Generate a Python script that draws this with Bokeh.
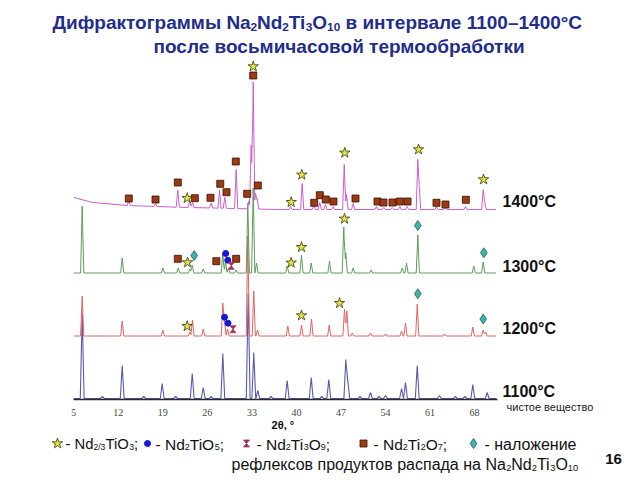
import numpy as np
from bokeh.plotting import figure
from bokeh.models import Range1d, LinearAxis, FixedTicker
from bokeh.core.properties import value
from bokeh.embed import file_html
from bokeh.resources import INLINE

# ---------------- data (2θ in degrees, intensities in arbitrary units) ----------------
tick_vals = [5, 12, 19, 26, 33, 40, 47, 54, 61, 68]

# 1100 °C (pure substance)
pos_1100 = [6.32, 9.5, 12.61, 16.0, 18.9, 21.0, 23.62, 25.35, 26.6, 28.43, 32.42, 33.30, 33.93,
            36.0, 38.55, 42.33, 44.0, 45.09, 47.77, 48.08, 50.0, 51.65, 53.0, 54.0, 56.53,
            57.15, 59.0, 62.5, 65.0, 66.5, 67.74, 70.0]
h_1100 = [85, 2, 33, 2, 15, 2, 25, 11, 2, 45, 105, 46, 8,
          2, 18, 21, 2, 19, 39, 18, 2, 6, 2, 3, 10,
          16, 33, 3, 2, 2, 14, 6]

# 1200 °C
pos_1200 = [6.32, 12.61, 19.0, 23.24, 23.66, 25.35, 28.43, 28.70, 29.17, 32.36, 33.30, 33.88,
            38.65, 40.80, 42.37, 45.16, 47.56, 47.93, 48.80, 51.65, 54.0, 56.53, 57.15, 59.0,
            63.3, 67.74, 69.37, 69.74]
h_1200 = [40, 15, 6, 4, 16, 7, 33, 15, 7, 100, 45, 6,
          10, 11, 17, 11, 27, 25, 3, 3, 2, 5, 13, 32,
          2, 9, 6, 4]

# 1300 °C
pos_1300 = [6.32, 12.61, 19.0, 21.42, 23.24, 23.62, 25.35, 28.43, 28.85, 29.32, 30.53, 32.36,
            33.21, 33.73, 38.55, 40.80, 42.33, 45.20, 47.45, 47.77, 48.93, 51.76, 56.64, 57.31,
            59.09, 67.89, 69.37]
h_1300 = [67, 15, 5, 5, 4, 8, 4, 20, 12, 5, 3, 70,
          85, 10, 7, 18, 10, 12, 46, 20, 5, 3, 5, 10,
          38, 7, 11]

# 1400 °C
pos_1400 = [13.65, 17.85, 21.35, 23.24, 23.66, 26.60, 27.91, 28.74, 30.53, 32.52, 32.89, 33.21,
            33.57, 33.84, 39.07, 40.91, 42.74, 43.68, 44.58, 45.79, 47.52, 47.88, 48.93, 52.59,
            53.74, 55.06, 56.26, 57.42, 59.09, 59.30, 62.03, 63.44, 66.59, 69.37, 69.60]
h_1400 = [5, 3, 17, 6, 5, 5, 18, 11, 39, 8, 64, 127,
          16, 10, 3, 26, 4, 7, 5, 3, 45, 15, 6, 3,
          2, 2, 3, 3, 50, 25, 3, 2, 3, 20, 8]
bg_1400_x = [5.0, 8.0, 13.4, 21.2, 37.0, 71.4]
bg_1400_y = [12, 7, 4, 2.3, 0, 0]

# vertical offsets of the stacked patterns
base_1100, base_1200, base_1300, base_1400 = 1, 63.5, 126.5, 190

# phase markers (2θ, y in the stacked scale)
star_x = [33.21, 22.83, 39.18, 40.85, 47.61, 59.20, 69.42,
          22.88, 39.18, 40.80, 47.56,
          22.83, 40.80, 46.78]
star_y = [333, 201.3, 197.3, 224.7, 246.7, 250, 220,
          137, 136.7, 152.3, 180.7,
          73.3, 84, 96.3]
sq_x = [13.65, 17.85, 21.35, 24.03, 26.49, 28.03, 29.01, 30.47, 32.26, 33.21, 33.93,
        42.80, 43.68, 44.62, 45.83, 49.29, 52.75, 53.69, 55.11, 56.26, 57.47, 62.03, 63.44, 66.64,
        21.35, 27.41, 30.53]
sq_y = [201, 200, 217, 201.3, 201.7, 215.7, 207.3, 238, 205.7, 324, 214,
        196.7, 204.3, 200, 198, 201, 198, 197, 197, 198, 198, 196.7, 195, 199.7,
        140.7, 138.3, 140.7]
dot_x = [28.88, 29.21, 28.70, 29.25]
dot_y = [146, 139.3, 82.3, 76.3]
hg_x = [29.76, 30.03]
hg_y = [133.7, 70.3]
dia_x = [23.93, 59.09, 69.47, 59.09, 69.37]
dia_y = [144, 174, 146.7, 105.7, 80.5]

temp_labels = ["1400°C", "1300°C", "1200°C", "1100°C"]

# ---------------- geometry helpers (picture pixels -> data) ----------------
W, H = 640, 480
DEG = 6.36                     # px per degree
X0 = 5 - 73.3 / DEG
X1 = X0 + W / DEG
Y1 = 399
Y0 = Y1 - H


def px(xp):
    return X0 + xp / DEG


def py(yp):
    return 399 - yp


REG = {' ': 278, '\u00a0': 278, '-': 333, '/': 278, ';': 278, ',': 278, '.': 278, '°': 400,
       '–': 556, 'N': 722, 'T': 611, 'O': 778, 'C': 722, 'a': 556, 'd': 556, 'i': 222, 'θ': 556,
       'а': 556, 'б': 573, 'в': 531, 'г': 365, 'д': 583, 'е': 556, 'ж': 669, 'з': 458,
       'и': 559, 'й': 559, 'к': 438, 'л': 583, 'м': 688, 'н': 552, 'о': 556, 'п': 542,
       'р': 556, 'с': 500, 'т': 458, 'у': 500, 'ф': 823, 'х': 500, 'ц': 573, 'ч': 521,
       'ш': 802, 'щ': 823, 'ы': 719, 'ь': 521}
BOLD = {' ': 278, '\u00a0': 278, '-': 333, '°': 400, '–': 556, 'N': 722, 'T': 611, 'O': 778,
        'C': 722, 'С': 722, 'a': 556, 'd': 611, 'i': 278, 'Д': 708,
        'а': 556, 'б': 611, 'в': 583, 'г': 417, 'д': 625, 'е': 556, 'ж': 813, 'и': 611,
        'й': 611, 'к': 514, 'л': 611, 'м': 729, 'н': 611, 'о': 611, 'п': 611, 'р': 611,
        'с': 556, 'т': 500, 'у': 556, 'ф': 885, 'ч': 583, 'ы': 823, 'ь': 583}


def tw(s, size, bold):
    tab = BOLD if bold else REG
    return sum(tab.get(ch, 556) for ch in s) * size / 1000.0


def draw_segments(p, segs, x, yb, size, bold=False, color="#111111", align="left",
                  font="Liberation Sans", sub=0.62):
    widths = [tw(s, size * (sub if sb else 1), bold) for s, sb in segs]
    total = sum(widths)
    if align == "center":
        x -= total / 2
    elif align == "right":
        x -= total
    for (s, sb), w in zip(segs, widths):
        fs = size * (sub if sb else 1)
        yy = yb + (size * 0.22 if sb else 0)
        p.text(x=[px(x)], y=[py(yy)], text=[s], text_font=value(font),
               text_font_size=f"{fs:.1f}px", text_font_style="bold" if bold else "normal",
               text_color=color, text_align="left", text_baseline="alphabetic")
        x += w


def curve(pos, hts, base, w, bgx=None, bgy=None, x_start=5.0, x_end=71.4):
    xs = {x_start, x_end}
    for c in pos:
        xs.update([c - w, c, c + w])
    if bgx:
        xs.update(bgx)
    xs = np.array(sorted(xs))
    bg = np.interp(xs, bgx, bgy) if bgx else np.zeros_like(xs)
    tri = np.zeros_like(xs)
    for c, h in zip(pos, hts):
        tri = np.maximum(tri, h * np.clip(1 - np.abs(xs - c) / w, 0, None))
    return xs, base + bg + tri


# ---------------- figure ----------------
p = figure(width=W, height=H, x_range=Range1d(X0, X1), y_range=Range1d(Y0, Y1),
           x_axis_type=None, y_axis_type=None, toolbar_location=None,
           output_backend="svg", min_border=0)
p.outline_line_color = None
p.background_fill_color = "white"

xax = LinearAxis(ticker=FixedTicker(ticks=tick_vals), bounds=(5, 71.6), fixed_location=0)
xax.axis_line_color = "#2a2a2a"
xax.axis_line_width = 1.5
xax.major_tick_line_color = None
xax.minor_tick_line_color = None
xax.major_label_text_font = "Liberation Serif"
xax.major_label_text_font_size = "10px"
xax.major_label_text_color = "#444444"
xax.major_label_standoff = 3
p.add_layout(xax, "below")

col_1400, col_1300, col_1200, col_1100 = "#cc5fcc", "#5c9e5c", "#e06464", "#5a5ab0"

x1, y1 = curve(pos_1100, h_1100, base_1100, 0.3)
p.line(x1, y1, line_color=col_1100, line_width=1.1)
x2, y2 = curve(pos_1200, h_1200, base_1200, 0.25)
p.line(x2, y2, line_color=col_1200, line_width=1)
x3, y3 = curve(pos_1300, h_1300, base_1300, 0.25)
p.line(x3, y3, line_color=col_1300, line_width=1)
x4, y4 = curve(pos_1400, h_1400, base_1400, 0.25, bg_1400_x, bg_1400_y)
p.line(x4, y4, line_color=col_1400, line_width=1)

STAR = dict(marker="star", size=11, fill_color="#e2e24e", line_color="#3d3d00", line_width=0.8)
SQ = dict(marker="square", size=7, fill_color="#9b3a14", line_color="#3a1000", line_width=0.8)
DOT = dict(marker="circle", size=6, fill_color="#1515d8", line_color="#1515d8")
DIA = dict(marker="diamond", size=10, fill_color="#3fb3a8", line_color="#1f6060", line_width=0.8)
HG_COL = "#a8325a"

p.scatter(sq_x, sq_y, **SQ)
p.scatter(star_x, star_y, **STAR)
p.scatter(dot_x, dot_y, **DOT)
p.scatter(dia_x, dia_y, **DIA)


def hourglass(xs, ys, dxp=3.0, dyp=3.5):
    dx = dxp / DEG
    p.patches([[x - dx, x + dx, x - dx, x + dx] for x in xs],
              [[y + dyp, y + dyp, y - dyp, y - dyp] for y in ys],
              fill_color=HG_COL, line_color=HG_COL, line_width=0.8)


hourglass(hg_x, hg_y)

# temperature labels
for lab, yb in zip(temp_labels, [201, 266, 328, 391]):
    draw_segments(p, [(lab, 0)], 502, yb, 16, bold=True, color="#111111")
draw_segments(p, [("чистое вещество", 0)], 506, 406, 11, color="#222222")

# title
TCOL = "#1f2d8c"
draw_segments(p, [("Дифрактограммы Na", 0), ("2", 1), ("Nd", 0), ("2", 1), ("Ti", 0), ("3", 1),
                  ("O", 0), ("10", 1), ("\u00a0в интервале 1100–1400°С", 0)],
              52, 22, 19, bold=True, color=TCOL)
draw_segments(p, [("после восьмичасовой термообработки", 0)], 153, 46, 19, bold=True,
              color=TCOL)

# x axis title
draw_segments(p, [("2θ, °", 0)], 284, 424, 11, bold=True, color="#111111", align="center")

# legend
LY = 443
p.scatter([px(57)], [py(LY)], **STAR)
p.scatter([px(147)], [py(LY)], **DOT)
hourglass([px(246)], [py(LY)])
p.scatter([px(363)], [py(LY)], **SQ)
p.scatter([px(473)], [py(LY)], **DIA)
LB = 443.5
SB = 0.58
draw_segments(p, [("- Nd", 0), ("2/3", 1), ("TiO", 0), ("3", 1), (";", 0)], 65, LB, 14.8, sub=SB)
draw_segments(p, [("- Nd", 0), ("2", 1), ("TiO", 0), ("5", 1), (";", 0)], 155, LB, 15.5, sub=SB)
draw_segments(p, [("- Nd", 0), ("2", 1), ("Ti", 0), ("3", 1), ("O", 0), ("9", 1), (";", 0)],
              256, LB, 15.5, sub=SB)
draw_segments(p, [("- Nd", 0), ("2", 1), ("Ti", 0), ("2", 1), ("O", 0), ("7", 1), (";", 0)],
              373, LB, 15.5, sub=SB)
draw_segments(p, [("- наложение", 0)], 484, LB, 16)
draw_segments(p, [("рефлексов продуктов распада на Na", 0), ("2", 1), ("Nd", 0), ("2", 1),
                  ("Ti", 0), ("3", 1), ("O", 0), ("10", 1)], 231, 464, 16, sub=SB)
draw_segments(p, [("16", 0)], 613, 458.5, 15, bold=True, align="center")

open("out.html", "w").write(file_html(p, INLINE))
